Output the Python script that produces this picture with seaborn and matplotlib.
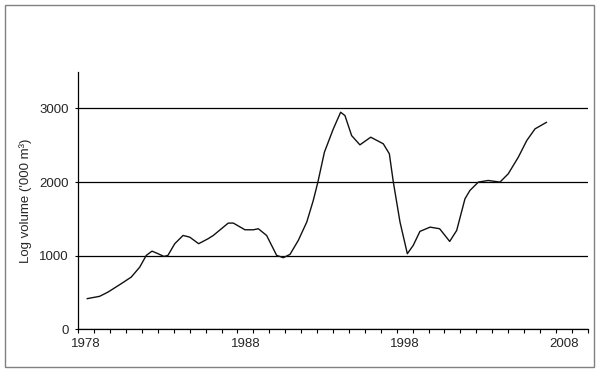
import numpy as np
import pandas as pd
import matplotlib
matplotlib.use('Agg')
import matplotlib.pyplot as plt
from matplotlib.patches import Rectangle
from matplotlib.ticker import MultipleLocator, FixedLocator
import seaborn as sns

# values
years = [1978.05, 1978.84, 1979.37, 1980.2, 1980.83, 1981.36, 1981.77, 1982.13,
         1982.51, 1982.88, 1983.13, 1983.56, 1984.08, 1984.5, 1985.06, 1985.65,
         1985.98, 1986.92, 1987.24, 1987.97, 1988.49, 1988.81, 1989.33, 1989.96,
         1990.38, 1990.8, 1991.32, 1991.85, 1992.26, 1992.55, 1992.96, 1993.52,
         1993.98, 1994.25, 1994.67, 1995.19, 1995.87, 1996.66, 1997.04, 1997.29,
         1997.71, 1998.17, 1998.54, 1998.96, 1999.6, 2000.2, 2000.83, 2001.27,
         2001.79, 2002.1, 2002.63, 2003.25, 2003.99, 2004.51, 2005.14, 2005.67,
         2006.19, 2006.92]
volume = [416, 448, 506, 620, 710, 845, 1004, 1062,
          1027, 990, 1004, 1163, 1275, 1252, 1163, 1230,
          1275, 1443, 1443, 1352, 1352, 1366, 1275, 1004,
          973, 1018, 1208, 1456, 1750, 2000, 2406, 2723,
          2949, 2904, 2632, 2506, 2610, 2520, 2384, 2000,
          1456, 1027, 1140, 1330, 1388, 1366, 1194, 1343,
          1773, 1886, 2000, 2022, 2000, 2113, 2338, 2564,
          2723, 2813]

yticks = [0, 1000, 2000, 3000]
xlabels = [1978, 1988, 1998, 2008]

df = pd.DataFrame({'year': years, 'volume': volume})

sns.set_style('white')
plt.rcParams['font.family'] = ['Liberation Sans', 'DejaVu Sans']

fig = plt.figure(figsize=(6, 3.72), dpi=100)
ax = fig.add_axes([0.1305, 0.1148, 0.849, 0.6925])

sns.lineplot(data=df, x='year', y='volume', ax=ax, color='#111111', lw=1)

ax.set_xlim(1977.5, 2009.5)
ax.set_ylim(0, 3500)
ax.set_yticks(yticks)
ax.yaxis.grid(True, color='black', lw=0.9)
ax.set_axisbelow(True)

ax.xaxis.set_major_locator(FixedLocator(xlabels))
ax.xaxis.set_minor_locator(MultipleLocator(1, offset=0.5))
ax.tick_params(axis='x', which='major', length=0, pad=6.5, labelsize=9.5)
ax.tick_params(axis='x', which='minor', length=3, width=0.8, color='black',
               direction='out', bottom=True)
ax.tick_params(axis='y', length=2.5, width=0.8, color='black', direction='out',
               left=True, pad=4.5, labelsize=9.5)

for s in ['top', 'right']:
    ax.spines[s].set_visible(False)
for s in ['left', 'bottom']:
    ax.spines[s].set_color('black')
    ax.spines[s].set_linewidth(0.9)

ax.set_xlabel('')
ax.set_ylabel("Log volume ('000 m³)", fontsize=9.5)
ax.yaxis.set_label_coords(-0.09, 0.5)

fig.patches.append(Rectangle((4.5 / 600, 1 - 367 / 372), (594 - 4.5) / 600, (367 - 5) / 372,
                             transform=fig.transFigure, fill=False,
                             edgecolor='#808080', lw=1))

fig.savefig('out.png', dpi=100)
